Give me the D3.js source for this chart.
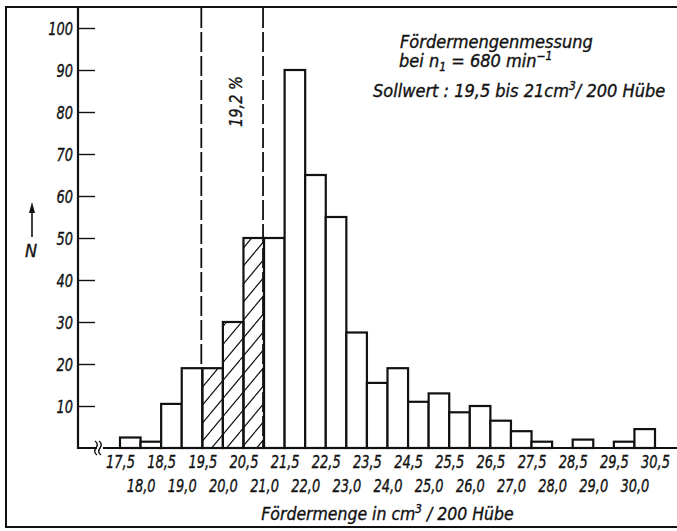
<!DOCTYPE html>
<html>
<head>
<meta charset="utf-8">
<script src="https://cdn.jsdelivr.net/npm/d3@7"></script>
<style>
  body { margin: 0; background: #fff; }
  svg { display: block; }
  text { font-family: 'Liberation Sans Narrow', 'DejaVu Sans Condensed', 'DejaVu Sans', sans-serif; font-stretch: condensed; font-style: italic; fill: #111; stroke: #111; stroke-width: 0.35px; }
</style>
</head>
<body>
<script>
// class starts (cm3 / 200 Hübe), each class is 0.5 wide
var classStarts = [17.5, 18.0, 18.5, 19.0, 19.5, 20.0, 20.5, 21.0, 21.5, 22.0, 22.5, 23.0, 23.5,
  24.0, 24.5, 25.0, 25.5, 26.0, 26.5, 27.0, 27.5, 28.0, 28.5, 29.0, 29.5, 30.0]
var counts = [2.5, 1.5, 10.5, 19, 19, 30, 50, 50, 90, 65, 55, 27.5, 15.5,
  19, 11, 13, 8.5, 10, 6.5, 4, 1.5, 0, 2, 0, 1.5, 4.5]
var hatchedClasses = [19.5, 20.0, 20.5]
var tolerance = [19.5, 21.0]
var upperTicks = [17.5, 18.5, 19.5, 20.5, 21.5, 22.5, 23.5, 24.5, 25.5, 26.5, 27.5, 28.5, 29.5, 30.5]
var lowerTicks = [18.0, 19.0, 20.0, 21.0, 22.0, 23.0, 24.0, 25.0, 26.0, 27.0, 28.0, 29.0, 30.0]
var yTicks = [10, 20, 30, 40, 50, 60, 70, 80, 90, 100]
var classWidth = 0.5
var shareLabel = '19,2 %'

;(function () {
  'use strict'

  var dim = { w: 677, h: 531 }
  var ink = '#111'

  var svg = d3.select('body').append('svg')
    .attr('width', dim.w)
    .attr('height', dim.h)

  var x = d3.scaleLinear().domain([17.5, 30.5]).range([120, 655])
  var y = d3.scaleLinear().domain([0, 100]).range([448, 28])
  var axisX = 78
  var fmt = d3.formatLocale({ decimal: ',', thousands: '.', grouping: [3], currency: ['', ''] }).format('.1f')

  // squeeze lettering to look like the narrow stencil script
  function narrow (sel, k) {
    sel.each(function () {
      var w = this.getComputedTextLength()
      d3.select(this).attr('textLength', w * k).attr('lengthAdjust', 'spacingAndGlyphs')
    })
  }

  // hatch pattern for the classes inside the tolerance
  svg.append('defs').append('pattern')
    .attr('id', 'hatch')
    .attr('patternUnits', 'userSpaceOnUse')
    .attr('width', 15)
    .attr('height', 18)
    .append('path')
      .attr('d', 'M-15,18 L0,0 M0,18 L15,0 M15,18 L30,0')
      .attr('stroke', ink)
      .attr('stroke-width', 1.2)

  // outer frame
  svg.append('rect')
    .attr('x', 6).attr('y', 7)
    .attr('width', dim.w + 10).attr('height', 520)
    .attr('fill', 'none')
    .attr('stroke', ink)
    .attr('stroke-width', 2)

  // dashed tolerance lines
  svg.append('g').selectAll('line').data(tolerance)
    .enter().append('line')
      .attr('x1', function (d) { return x(d) - 1 })
      .attr('x2', function (d) { return x(d) - 1 })
      .attr('y1', 8)
      .attr('y2', y(0))
      .attr('stroke', ink)
      .attr('stroke-width', 1.8)
      .attr('stroke-dasharray', '20,4')

  // bars
  var bins = classStarts.map(function (s, i) { return { x0: s, x1: s + classWidth, n: counts[i] } })
    .filter(function (d) { return d.n > 0 })

  svg.append('g').selectAll('rect').data(bins)
    .enter().append('rect')
      .attr('x', function (d) { return x(d.x0) })
      .attr('width', function (d) { return x(d.x1) - x(d.x0) })
      .attr('y', function (d) { return y(d.n) })
      .attr('height', function (d) { return y(0) - y(d.n) })
      .attr('fill', function (d) { return hatchedClasses.indexOf(d.x0) >= 0 ? 'url(#hatch)' : '#fff' })
      .attr('stroke', ink)
      .attr('stroke-width', 2.2)

  // y axis: ticks point into the plot, labels left
  var yAxis = svg.append('g')
    .attr('transform', 'translate(' + axisX + ',0)')
    .call(d3.axisLeft(y).tickValues(yTicks).tickSize(-17).tickPadding(5))
  yAxis.select('.domain').remove()
  yAxis.selectAll('line').attr('stroke', ink).attr('stroke-width', 1.4)
  yAxis.selectAll('text')
    .attr('font-family', null).attr('font-size', null)
    .style('font-size', '18px')
    .attr('dy', '0.36em')
    .call(narrow, 0.8)

  svg.append('line')
    .attr('x1', axisX).attr('x2', axisX)
    .attr('y1', 7).attr('y2', y(0) + 1)
    .attr('stroke', ink).attr('stroke-width', 2.2)

  // x axis base line and break mark
  svg.append('line')
    .attr('x1', axisX - 1).attr('x2', dim.w)
    .attr('y1', y(0)).attr('y2', y(0))
    .attr('stroke', ink).attr('stroke-width', 2.2)

  var brk = svg.append('g').attr('transform', 'translate(' + (axisX + 22) + ',' + y(0) + ')')
  brk.append('rect').attr('x', -3).attr('y', -3).attr('width', 6).attr('height', 6).attr('fill', '#fff')
  brk.selectAll('path').data([-2, 2])
    .enter().append('path')
      .attr('d', function (d) { return 'M' + (d - 3) + ',-7 q4,3 1,7 q-3,4 1,7' })
      .attr('fill', 'none')
      .attr('stroke', ink)
      .attr('stroke-width', 1.4)

  // x labels in two rows
  function labelRow (values, dy) {
    var g = svg.append('g')
      .attr('transform', 'translate(0,' + y(0) + ')')
      .call(d3.axisBottom(x).tickValues(values).tickSize(0).tickPadding(0).tickFormat(fmt))
    g.select('.domain').remove()
    g.selectAll('text')
      .attr('font-family', null).attr('font-size', null)
      .style('font-size', '18px')
      .attr('y', dy).attr('dy', 0)
      .call(narrow, 0.8)
  }
  labelRow(upperTicks, 20)
  labelRow(lowerTicks, 44)

  var title = svg.append('text')
    .attr('x', (x.range()[0] + x.range()[1]) / 2)
    .attr('y', 520)
    .attr('text-anchor', 'middle')
    .style('font-size', '18px')
  title.append('tspan').text('Fördermenge in cm')
  title.append('tspan').attr('dy', -7).style('font-size', '12px').text('3')
  title.append('tspan').attr('dy', 7).text(' / 200 Hübe')
  title.call(narrow, 0.97)

  // percentage inside tolerance band
  svg.append('text')
    .attr('transform', 'translate(' + 242 + ',' + 127 + ') rotate(-90)')
    .style('font-size', '18px')
    .text(shareLabel)
    .call(narrow, 0.9)

  // N arrow
  svg.append('line')
    .attr('x1', 32).attr('x2', 32).attr('y1', 210).attr('y2', 237)
    .attr('stroke', ink).attr('stroke-width', 1.6)
  svg.append('path')
    .attr('d', 'M32,202 L35,213 L29,213 Z')
    .attr('fill', ink)
  svg.append('text')
    .attr('x', 31).attr('y', 257)
    .attr('text-anchor', 'middle')
    .style('font-size', '18px')
    .text('N')

  // annotation box
  var note = svg.append('g').style('font-size', '18px')
  note.append('text').attr('x', 400).attr('y', 48).text('Fördermengenmessung')
  var l2 = note.append('text').attr('x', 399).attr('y', 67)
  l2.append('tspan').text('bei n')
  l2.append('tspan').attr('dy', 4).style('font-size', '12px').text('1')
  l2.append('tspan').attr('dy', -4).text(' = 680 min')
  l2.append('tspan').attr('dy', -7).style('font-size', '12px').text('−1')
  var l3 = note.append('text').attr('x', 373).attr('y', 97)
  l3.append('tspan').text('Sollwert : 19,5 bis 21cm')
  l3.append('tspan').attr('dy', -7).style('font-size', '12px').text('3')
  l3.append('tspan').attr('dy', 7).text('/ 200 Hübe')
}())
</script>
</body>
</html>
